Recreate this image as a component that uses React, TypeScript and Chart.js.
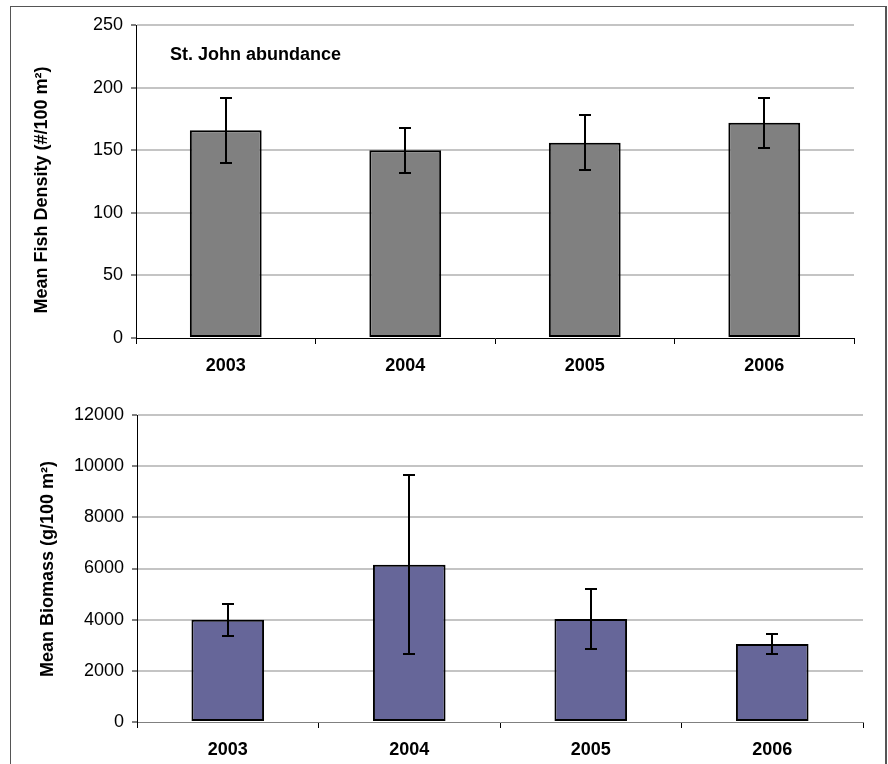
import React, { useEffect, useRef } from 'react';
import { Chart, registerables } from 'chart.js';

Chart.register(...registerables);

// ---- data ----
const years = ['2003', '2004', '2005', '2006'];

const densityMean = [166, 150, 156, 172];
const densityErr = [26, 18, 22, 20];
const densityMin = 0;
const densityMax = 250;
const densityStep = 50;

const biomassMean = [4000, 6150, 4030, 3050];
const biomassErr = [620, 3510, 1170, 390];
const biomassMin = 0;
const biomassMax = 12000;
const biomassStep = 2000;

const densityTitle = 'Mean Fish Density (#/100 m²)';
const biomassTitle = 'Mean Biomass (g/100 m²)';
const panelLabel = 'St. John abundance';

const FONT = '"Liberation Sans", Arial, sans-serif';

type PanelProps = {
  top: number;
  height: number;
  means: number[];
  errs: number[];
  min: number;
  max: number;
  step: number;
  color: string;
  yTitle: string;
  yTitleX: number;
  yTitleY: number;
  axisWidth: number;
  padTop: number;
  padRight: number;
  xAxisHeight: number;
  xAxisColor: string;
  note?: string;
};

function BarPanel(p: PanelProps) {
  const ref = useRef<HTMLCanvasElement | null>(null);

  useEffect(() => {
    if (!ref.current) return;
    const errorBars = {
      id: 'errorBars',
      afterDatasetsDraw(chart: any) {
        const { ctx } = chart;
        const y = chart.scales.y;
        const meta = chart.getDatasetMeta(0);
        const data = chart.data.datasets[0].data as number[];
        ctx.save();
        ctx.strokeStyle = '#000';
        ctx.lineWidth = 2;
        data.forEach((v, i) => {
          const px = Math.round(meta.data[i].x);
          const t = Math.round(y.getPixelForValue(v + p.errs[i]));
          const b = Math.round(y.getPixelForValue(v - p.errs[i]));
          ctx.beginPath();
          ctx.moveTo(px, t);
          ctx.lineTo(px, b);
          ctx.moveTo(px - 6, t);
          ctx.lineTo(px + 6, t);
          ctx.moveTo(px - 6, b);
          ctx.lineTo(px + 6, b);
          ctx.stroke();
        });
        ctx.restore();
      },
    };
    const texts = {
      id: 'texts',
      afterDraw(chart: any) {
        const { ctx } = chart;
        ctx.save();
        ctx.fillStyle = '#000';
        ctx.font = `bold 18px ${FONT}`;
        ctx.translate(p.yTitleX, p.yTitleY);
        ctx.rotate(-Math.PI / 2);
        ctx.textAlign = 'center';
        ctx.textBaseline = 'middle';
        ctx.fillText(p.yTitle, 0, 0);
        ctx.restore();
        if (p.note) {
          ctx.save();
          ctx.fillStyle = '#000';
          ctx.font = `bold 18px ${FONT}`;
          ctx.textAlign = 'left';
          ctx.textBaseline = 'alphabetic';
          ctx.fillText(p.note, 170, 60);
          ctx.restore();
        }
      },
    };
    const chart = new Chart(ref.current, {
      type: 'bar',
      data: {
        labels: years,
        datasets: [
          {
            data: p.means,
            backgroundColor: p.color,
            borderColor: '#000',
            borderWidth: 2,
            borderSkipped: false,
            barPercentage: 0.4,
            categoryPercentage: 1,
          },
        ],
      },
      options: {
        responsive: false,
        maintainAspectRatio: false,
        animation: false,
        devicePixelRatio: 1,
        layout: { padding: { left: 0, top: p.padTop, right: p.padRight, bottom: 0 } },
        plugins: { legend: { display: false }, tooltip: { enabled: false }, title: { display: false } },
        scales: {
          x: {
            grid: {
              offset: true,
              drawOnChartArea: false,
              drawTicks: true,
              tickLength: 6,
              tickColor: '#000',
              tickWidth: 1,
            },
            border: { color: p.xAxisColor, width: 1 },
            ticks: {
              color: '#000',
              font: { family: FONT, size: 18, weight: 'bold' },
              padding: 11,
              maxRotation: 0,
            },
            afterFit: (axis: any) => {
              axis.height = p.xAxisHeight;
            },
          },
          y: {
            min: p.min,
            max: p.max,
            ticks: {
              stepSize: p.step,
              color: '#000',
              font: { family: FONT, size: 18 },
              padding: 8,
              callback: (v: any) => String(v),
            },
            grid: {
              color: (c: any) => (c.tick && c.tick.value === p.min ? 'rgba(0,0,0,0)' : '#c4c4c4'),
              lineWidth: 2,
              tickLength: 5,
              tickColor: '#000',
              tickWidth: 1,
            },
            border: { color: '#000', width: 1 },
            afterFit: (axis: any) => {
              axis.width = p.axisWidth;
            },
          },
        },
      },
      plugins: [errorBars, texts],
    });
    return () => chart.destroy();
  }, []);

  return (
    <canvas
      ref={ref}
      width={888}
      height={p.height}
      style={{ position: 'absolute', left: 0, top: p.top, width: 888, height: p.height }}
    />
  );
}

export default function App() {
  return (
    <div style={{ position: 'absolute', left: 0, top: 0, width: 888, height: 764, background: '#fff', overflow: 'hidden' }}>
      <div
        style={{
          position: 'absolute',
          left: 10,
          top: 6,
          width: 874,
          height: 800,
          borderLeft: '1px solid #555',
          borderTop: '1px solid #555',
          borderRight: '2px solid #555',
        }}
      />
      <BarPanel
        top={0}
        height={380}
        means={densityMean}
        errs={densityErr}
        min={densityMin}
        max={densityMax}
        step={densityStep}
        color="#808080"
        yTitle={densityTitle}
        yTitleX={42}
        yTitleY={190}
        axisWidth={136}
        padTop={25}
        padRight={34}
        xAxisHeight={42}
        xAxisColor="#000"
        note={panelLabel}
      />
      <BarPanel
        top={380}
        height={384}
        means={biomassMean}
        errs={biomassErr}
        min={biomassMin}
        max={biomassMax}
        step={biomassStep}
        color="#666699"
        yTitle={biomassTitle}
        yTitleX={48}
        yTitleY={189}
        axisWidth={137}
        padTop={35}
        padRight={25}
        xAxisHeight={42}
        xAxisColor="#808080"
      />
    </div>
  );
}
